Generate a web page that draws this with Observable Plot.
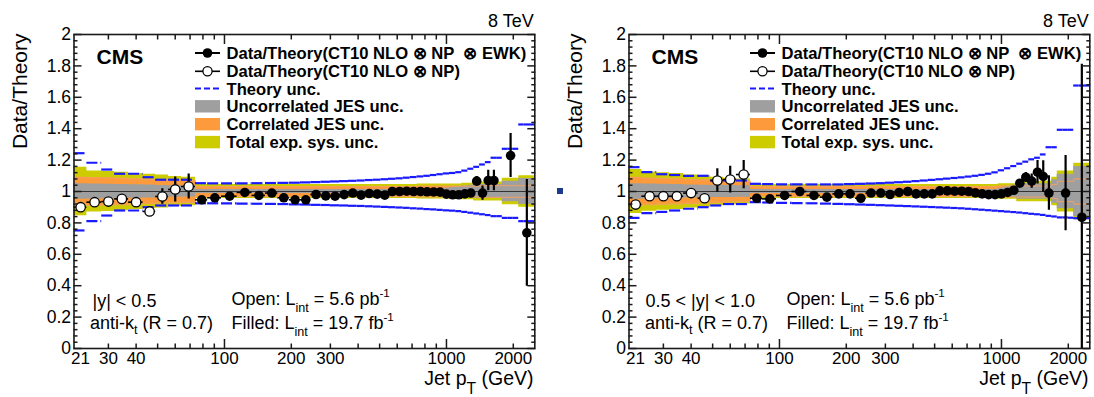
<!DOCTYPE html>
<html>
<head>
<meta charset="utf-8">
<script src="https://cdn.jsdelivr.net/npm/d3@7"></script>
<script src="https://cdn.jsdelivr.net/npm/@observablehq/plot@0.6"></script>
<style>
  html, body { margin: 0; padding: 0; background: #fff; overflow: hidden; }
  #page { position: relative; width: 1094px; height: 397px; }
  #page svg { position: absolute; top: 0; overflow: visible; }
</style>
</head>
<body>
<div id="page"></div>
<script>
// Jet pT bin edges (GeV)
const ptEdges = [21, 24, 28, 32, 37, 43, 49, 56, 64, 74, 84, 97, 114, 133, 153, 174, 196, 220, 245, 272,
  300, 330, 362, 395, 430, 468, 507, 548, 592, 638, 686, 737, 790, 846, 905, 967, 1032, 1101, 1172, 1248,
  1327, 1410, 1497, 1588, 1684, 1784, 1890, 2000, 2116, 2238, 2366, 2500];

// ---------- |y| < 0.5 ----------
const y05TheoryUp = [
  1.244, 1.183, 1.140, 1.113, 1.113, 1.091, 1.075, 1.075, 1.075,
  1.053, 1.052, 1.052, 1.052, 1.053, 1.054, 1.055, 1.056, 1.058, 1.060,
  1.062, 1.064, 1.066, 1.068, 1.070, 1.073, 1.075, 1.078, 1.081, 1.084,
  1.088, 1.092, 1.096, 1.100, 1.105, 1.110, 1.115, 1.118, 1.123, 1.133,
  1.145, 1.157, 1.172, 1.187, 1.215, 1.215, 1.272, 1.272, 1.272, 1.427,
  1.427, 1.427];
const y05TheoryDown = [
  0.752, 0.811, 0.847, 0.879, 0.879, 0.900, 0.911, 0.911, 0.911,
  0.925, 0.925, 0.924, 0.923, 0.922, 0.921, 0.920, 0.918, 0.917, 0.915,
  0.914, 0.912, 0.911, 0.909, 0.908, 0.906, 0.904, 0.902, 0.900, 0.898,
  0.896, 0.893, 0.891, 0.888, 0.886, 0.883, 0.880, 0.878, 0.875, 0.870,
  0.865, 0.860, 0.855, 0.850, 0.843, 0.843, 0.832, 0.832, 0.832, 0.811,
  0.811, 0.811];
const y05TotalSys = [
  0.155, 0.130, 0.127, 0.123, 0.115, 0.110, 0.105, 0.095, 0.090,
  0.045, 0.045, 0.045, 0.045, 0.045, 0.045, 0.045, 0.045, 0.045, 0.045,
  0.045, 0.045, 0.045, 0.045, 0.045, 0.045, 0.045, 0.045, 0.045, 0.045,
  0.045, 0.045, 0.048, 0.048, 0.048, 0.048, 0.048, 0.048, 0.048, 0.052,
  0.052, 0.060, 0.060, 0.060, 0.060, 0.060, 0.085, 0.085, 0.085, 0.100,
  0.100, 0.100];
const y05CorrJES = [
  0.090, 0.088, 0.086, 0.084, 0.080, 0.077, 0.074, 0.072, 0.070,
  0.032, 0.032, 0.032, 0.032, 0.032, 0.032, 0.032, 0.032, 0.032, 0.032,
  0.032, 0.032, 0.032, 0.032, 0.032, 0.032, 0.032, 0.032, 0.032, 0.032,
  0.032, 0.032, 0.034, 0.034, 0.034, 0.034, 0.034, 0.034, 0.034, 0.034,
  0.034, 0.034, 0.037, 0.037, 0.037, 0.037, 0.037, 0.037, 0.037, 0.037,
  0.037, 0.037];
const y05UncorrJES = [
  0.050, 0.048, 0.046, 0.045, 0.043, 0.041, 0.039, 0.037, 0.035,
  0.012, 0.012, 0.012, 0.012, 0.012, 0.012, 0.012, 0.012, 0.012, 0.012,
  0.012, 0.012, 0.012, 0.012, 0.012, 0.012, 0.012, 0.012, 0.012, 0.012,
  0.012, 0.012, 0.012, 0.012, 0.012, 0.015, 0.020, 0.025, 0.030, 0.035,
  0.040, 0.045, 0.045, 0.045, 0.045, 0.045, 0.065, 0.065, 0.065, 0.083,
  0.083, 0.083];
// open markers: first nine bins (low-luminosity sample)
const y05OpenRatio = [0.900, 0.932, 0.936, 0.953, 0.932, 0.873, 0.968, 1.013, 1.032];
const y05OpenErr   = [0.010, 0.010, 0.010, 0.010, 0.012, 0.015, 0.050, 0.080, 0.080];
// filled markers: bins 74 GeV and above
const y05FilledRatio = [
  0.947, 0.960, 0.970, 0.994, 0.975, 0.990, 0.960, 0.947, 0.947, 0.981,
  0.972, 0.970, 0.980, 0.990, 0.977, 0.987, 0.983, 0.977, 1.000, 1.000,
  1.002, 1.000, 1.000, 0.998, 0.997, 0.996, 0.983, 0.979, 0.979, 0.985,
  0.990, 1.066, 0.990, 1.070, 1.070, null, null, 1.229, null, null,
  0.737, null];
const y05FilledErr = [
  0.005, 0.005, 0.005, 0.005, 0.005, 0.005, 0.005, 0.005, 0.005, 0.005,
  0.005, 0.005, 0.005, 0.005, 0.005, 0.005, 0.005, 0.005, 0.005, 0.005,
  0.005, 0.005, 0.005, 0.005, 0.005, 0.005, 0.005, 0.005, 0.005, 0.005,
  0.006, 0.030, 0.045, 0.065, 0.065, null, null, 0.140, null, null,
  0.340, null];

// ---------- 0.5 < |y| < 1.0 ----------
const y10TheoryUp = [
  1.155, 1.123, 1.110, 1.105, 1.100, 1.100, 1.070, 1.070, 1.070,
  1.049, 1.047, 1.046, 1.045, 1.045, 1.045, 1.045, 1.047, 1.049, 1.051,
  1.053, 1.056, 1.059, 1.062, 1.066, 1.070, 1.074, 1.078, 1.082, 1.086,
  1.090, 1.095, 1.100, 1.106, 1.113, 1.122, 1.135, 1.148, 1.162, 1.177,
  1.190, 1.205, 1.215, 1.236, 1.282, 1.282, 1.393, 1.393, 1.393, 1.675,
  1.675, 1.675];
const y10TheoryDown = [
  0.832, 0.862, 0.870, 0.879, 0.890, 0.900, 0.911, 0.920, 0.920,
  0.932, 0.930, 0.928, 0.926, 0.925, 0.923, 0.921, 0.919, 0.917, 0.915,
  0.913, 0.911, 0.909, 0.907, 0.905, 0.903, 0.901, 0.899, 0.897, 0.895,
  0.893, 0.890, 0.887, 0.884, 0.881, 0.878, 0.875, 0.872, 0.869, 0.866,
  0.862, 0.858, 0.855, 0.851, 0.845, 0.841, 0.835, 0.835, 0.833, 0.830,
  0.830, 0.830];
const y10TotalSys = [
  0.140, 0.125, 0.120, 0.115, 0.105, 0.100, 0.090, 0.085, 0.080,
  0.045, 0.045, 0.045, 0.045, 0.045, 0.045, 0.045, 0.045, 0.045, 0.045,
  0.045, 0.045, 0.045, 0.045, 0.045, 0.045, 0.045, 0.045, 0.045, 0.045,
  0.045, 0.045, 0.045, 0.045, 0.045, 0.045, 0.050, 0.050, 0.050, 0.065,
  0.065, 0.065, 0.065, 0.065, 0.065, 0.090, 0.130, 0.130, 0.130, 0.180,
  0.180, 0.180];
const y10CorrJES = [
  0.090, 0.085, 0.082, 0.080, 0.077, 0.074, 0.070, 0.067, 0.065,
  0.032, 0.032, 0.032, 0.032, 0.032, 0.032, 0.032, 0.032, 0.032, 0.032,
  0.032, 0.032, 0.032, 0.032, 0.032, 0.032, 0.032, 0.032, 0.032, 0.032,
  0.032, 0.032, 0.032, 0.032, 0.032, 0.032, 0.035, 0.035, 0.035, 0.035,
  0.035, 0.035, 0.035, 0.035, 0.035, 0.045, 0.065, 0.065, 0.065, 0.080,
  0.080, 0.080];
const y10UncorrJES = [
  0.050, 0.048, 0.046, 0.044, 0.042, 0.040, 0.039, 0.038, 0.037,
  0.012, 0.012, 0.012, 0.012, 0.012, 0.012, 0.012, 0.012, 0.012, 0.012,
  0.012, 0.012, 0.012, 0.012, 0.012, 0.012, 0.012, 0.012, 0.012, 0.012,
  0.012, 0.012, 0.012, 0.012, 0.012, 0.012, 0.020, 0.030, 0.040, 0.050,
  0.050, 0.050, 0.050, 0.050, 0.050, 0.075, 0.110, 0.110, 0.110, 0.160,
  0.160, 0.160];
const y10OpenRatio = [0.917, 0.970, 0.970, 0.970, 0.990, 0.957, 1.070, 1.076, 1.108];
const y10OpenErr   = [0.010, 0.010, 0.010, 0.010, 0.015, 0.030, 0.075, 0.085, 0.090];
const y10FilledRatio = [
  0.957, 0.953, 0.975, 1.000, 0.975, 0.964, 0.985, 0.985, 0.957, 0.990,
  0.990, 0.981, 0.994, 1.000, 0.985, 0.985, 0.985, 1.004, 1.004, 1.002,
  1.002, 1.000, 0.991, 0.985, 0.980, 0.980, 0.985, 0.994, 1.008, 1.053,
  1.091, 1.066, 1.123, 1.096, 0.990, null, null, 0.990, null, null,
  0.836, null];
const y10FilledErr = [
  0.006, 0.006, 0.006, 0.006, 0.006, 0.006, 0.006, 0.006, 0.006, 0.006,
  0.006, 0.006, 0.006, 0.006, 0.006, 0.006, 0.006, 0.006, 0.006, 0.006,
  0.006, 0.006, 0.006, 0.006, 0.006, 0.006, 0.006, 0.006, 0.006, 0.015,
  0.030, 0.045, 0.075, 0.100, 0.110, null, null, 0.240, null, null,
  0.974, null];

// Axis ticks and labels
const yMajorTicks = [0, 0.2, 0.4, 0.6, 0.8, 1, 1.2, 1.4, 1.6, 1.8, 2];
const yMinorTicks = d3.range(0, 2.001, 0.04).filter(v => Math.abs(v * 5 - Math.round(v * 5)) > 1e-6);
const xMajorTicks = [100, 1000];
const xMinorTicks = [30, 40, 50, 60, 70, 80, 90, 200, 300, 400, 500, 600, 700, 800, 900, 2000];
const xTickLabels = [21, 30, 40, 100, 200, 300, 1000, 2000];

const legendLabels = [
  "Data/Theory(CT10 NLO \u2297 NP  \u2297 EWK)",
  "Data/Theory(CT10 NLO \u2297 NP)",
  "Theory unc.",
  "Uncorrelated JES unc.",
  "Correlated JES unc.",
  "Total exp. sys. unc."
];

const FONT = "'Liberation Sans', Arial, Helvetica, sans-serif";
const colTotal = "#cccc00";
const colCorr = "#fd9a3c";
const colCorrEdge = "#f5a060";
const colUncorr = "#9f9f9f";
const colTheory = "#1a1aff";

// text with sub/superscript pieces: [string, baseline shift (em), size scale]
function richText(svg, x, y, parts, size, opts = {}) {
  const t = d3.select(svg).append("text")
    .attr("x", x).attr("y", y)
    .attr("font-family", FONT).attr("font-size", size)
    .attr("font-weight", opts.weight || "normal")
    .attr("text-anchor", opts.anchor || "start")
    .attr("fill", "#000");
  let shift = 0;
  for (const p of parts) {
    const [s, dyEm = 0, scale = 1] = typeof p === "string" ? [p] : p;
    const target = dyEm * size;
    t.append("tspan").attr("dy", target - shift).attr("font-size", size * scale).text(s);
    shift = target;
  }
}

function drawLegend(svg) {
  const g = d3.select(svg).append("g").attr("text-anchor", "start");
  const x0 = 195, x1 = 220, xm = 207.5;
  const rows = [53, 71.3, 88.5, 106.3, 124.2, 142.1];
  g.append("line").attr("x1", x0).attr("x2", x1).attr("y1", rows[0]).attr("y2", rows[0]).attr("stroke", "#000").attr("stroke-width", 2);
  g.append("circle").attr("cx", xm).attr("cy", rows[0]).attr("r", 4.8).attr("fill", "#000");
  g.append("line").attr("x1", x0).attr("x2", x1).attr("y1", rows[1]).attr("y2", rows[1]).attr("stroke", "#000").attr("stroke-width", 1.6);
  g.append("circle").attr("cx", xm).attr("cy", rows[1]).attr("r", 4.6).attr("fill", "#fff").attr("stroke", "#000").attr("stroke-width", 1.3);
  g.append("line").attr("x1", x0).attr("x2", x1).attr("y1", rows[2]).attr("y2", rows[2]).attr("stroke", colTheory).attr("stroke-width", 2.2).attr("stroke-dasharray", "6,3");
  [[colUncorr, rows[3]], [colCorr, rows[4]], [colTotal, rows[5]]].forEach(([c, y]) =>
    g.append("rect").attr("x", x0).attr("y", y - 6.2).attr("width", x1 - x0).attr("height", 12.4).attr("fill", c));
  legendLabels.forEach((s, i) =>
    g.append("text").attr("x", 226.5).attr("y", rows[i] + 6).attr("font-family", FONT)
      .attr("text-anchor", "start")
      .attr("font-size", 16.6).attr("font-weight", "bold").attr("fill", "#000").text(s));
}

function drawPanel(cfg) {
  const bins = ptEdges.slice(0, -1).map((lo, i) => ({
    lo, hi: ptEdges[i + 1], mid: (lo + ptEdges[i + 1]) / 2,
    up: cfg.theoryUp[i], dn: cfg.theoryDown[i],
    tot: cfg.total[i], cor: cfg.corr[i], unc: cfg.uncorr[i]
  }));
  const last = bins[bins.length - 1];
  const steps = [...bins.map(b => ({...b, x: b.lo})), {...last, x: last.hi}];
  const nOpen = cfg.openRatio.length;
  const open = cfg.openRatio.map((r, i) => ({...bins[i], r, e: cfg.openErr[i]}));
  const filled = cfg.filledRatio
    .map((r, j) => r == null ? null : ({...bins[j + nOpen], r, e: cfg.filledErr[j]}))
    .filter(Boolean);
  const points = [...open, ...filled];
  const fmt = d => d === 0 ? "0" : Number.isInteger(d) ? String(d) : d.toFixed(1);
  const tickStyle = {stroke: "#1a1a1a", strokeWidth: 1.5, tickFormat: () => "", label: null};

  const svg = Plot.plot({
    width: cfg.width,
    height: 397,
    marginLeft: 73.5,
    marginRight: cfg.width - 534.3,
    marginTop: 34,
    marginBottom: 49,
    x: {type: "log", domain: [21, 2500]},
    y: {domain: [0, 2]},
    style: {fontFamily: FONT, background: "transparent", color: "#000", overflow: "visible"},
    marks: [
      Plot.areaY(steps, {x: "x", y1: d => 1 - d.tot, y2: d => 1 + d.tot, curve: "step-after", fill: colTotal}),
      Plot.areaY(steps, {x: "x", y1: d => 1 - d.cor, y2: d => 1 + d.cor, curve: "step-after", fill: colCorr}),
      Plot.areaY(steps, {x: "x", y1: d => 1 - d.unc, y2: d => 1 + d.unc, curve: "step-after", fill: colUncorr}),
      Plot.lineY(steps, {x: "x", y: d => 1 + d.cor, curve: "step-after", stroke: colCorrEdge, strokeWidth: 1}),
      Plot.lineY(steps, {x: "x", y: d => 1 - d.cor, curve: "step-after", stroke: colCorrEdge, strokeWidth: 1}),
      Plot.ruleY([1], {stroke: "#333", strokeWidth: 1}),
      Plot.ruleY(bins, {y: "up", x1: "lo", x2: "hi", stroke: colTheory, strokeWidth: 2.2, strokeDasharray: "11,3"}),
      Plot.ruleY(bins, {y: "dn", x1: "lo", x2: "hi", stroke: colTheory, strokeWidth: 2.2, strokeDasharray: "11,3"}),
      Plot.ruleY(points, {y: "r", x1: "lo", x2: "hi", stroke: "#000", strokeWidth: 1.6}),
      Plot.ruleX(points, {x: "mid", y1: d => d.r - d.e, y2: d => d.r + d.e, stroke: "#000", strokeWidth: 2.2, clip: true}),
      Plot.dot(open, {x: "mid", y: "r", r: 4.7, fill: "#fff", stroke: "#000", strokeWidth: 1.3}),
      Plot.dot(filled, {x: "mid", y: "r", r: 4.8, fill: "#000"}),
      Plot.frame({stroke: "#1a1a1a", strokeWidth: 1.6}),
      Plot.axisY(yMajorTicks, {anchor: "left", tickSize: -8, ...tickStyle}),
      Plot.axisY(yMinorTicks, {anchor: "left", tickSize: -4, ...tickStyle}),
      Plot.axisY(yMajorTicks, {anchor: "right", tickSize: -8, ...tickStyle}),
      Plot.axisY(yMinorTicks, {anchor: "right", tickSize: -4, ...tickStyle}),
      Plot.axisX(xMajorTicks, {anchor: "bottom", tickSize: -9, ...tickStyle}),
      Plot.axisX(xMinorTicks, {anchor: "bottom", tickSize: -4.5, ...tickStyle}),
      Plot.axisX(xMajorTicks, {anchor: "top", tickSize: -9, ...tickStyle}),
      Plot.axisX(xMinorTicks, {anchor: "top", tickSize: -4.5, ...tickStyle}),
      Plot.text(yMajorTicks, {y: d => d, text: fmt, frameAnchor: "left", textAnchor: "end", dx: -3, fontSize: 17.5}),
      Plot.text(xTickLabels.slice(1), {x: d => d, text: d => String(d), frameAnchor: "bottom", lineAnchor: "bottom", dy: 15.5, fontSize: 17}),
      Plot.text(xTickLabels.slice(0, 1), {x: d => d, text: d => String(d), frameAnchor: "bottom", lineAnchor: "bottom", textAnchor: "start", dy: 15.5, dx: -3, fontSize: 17}),
      Plot.text(["Data/Theory"], {frameAnchor: "top-left", rotate: -90, textAnchor: "end", dx: -62, dy: -1, fontSize: 21}),
      Plot.text(["8 TeV"], {frameAnchor: "top-right", textAnchor: "end", lineAnchor: "bottom", dx: -1, dy: -7.3, fontSize: 18}),
      Plot.text(["CMS"], {frameAnchor: "top-left", textAnchor: "start", lineAnchor: "bottom", dx: 22.5, dy: 29.5, fontSize: 21, fontWeight: "bold"}),
      Plot.text([cfg.rapidity], {frameAnchor: "bottom-left", textAnchor: "start", lineAnchor: "bottom", dx: cfg.rapidityDx, dy: -41.5, fontSize: 18})
    ]
  });

  richText(svg, 90, 329, ["anti-k", ["t", 0.28, 0.7], [" (R = 0.7)", 0, 1]], 18);
  richText(svg, 231.5, 305, ["Open: L", ["int", 0.4, 0.7], [" = 5.6 pb", 0, 1], ["-1", -0.45, 0.65]], 18);
  richText(svg, 231.5, 329, ["Filled: L", ["int", 0.4, 0.7], [" = 19.7 fb", 0, 1], ["-1", -0.45, 0.65]], 18);
  richText(svg, 533.5, 385, ["Jet p", ["T", 0.48, 0.8], [" (GeV)", 0, 1]], 19.5, {anchor: "end"});
  drawLegend(svg);
  return svg;
}

const page = document.getElementById("page");

const left = drawPanel({
  width: 547, rapidity: "|y| < 0.5", rapidityDx: 18.5,
  theoryUp: y05TheoryUp, theoryDown: y05TheoryDown,
  total: y05TotalSys, corr: y05CorrJES, uncorr: y05UncorrJES,
  openRatio: y05OpenRatio, openErr: y05OpenErr,
  filledRatio: y05FilledRatio, filledErr: y05FilledErr
});
left.style.left = "0px";
page.appendChild(left);

const right = drawPanel({
  width: 539, rapidity: "0.5 < |y| < 1.0", rapidityDx: 16.5,
  theoryUp: y10TheoryUp, theoryDown: y10TheoryDown,
  total: y10TotalSys, corr: y10CorrJES, uncorr: y10UncorrJES,
  openRatio: y10OpenRatio, openErr: y10OpenErr,
  filledRatio: y10FilledRatio, filledErr: y10FilledErr
});
right.style.left = "555px";
// small marker between the two panels
d3.select(right).append("rect").attr("x", 2).attr("y", 188).attr("width", 6).attr("height", 6).attr("fill", "#1c3a8c");
page.appendChild(right);
</script>
</body>
</html>
